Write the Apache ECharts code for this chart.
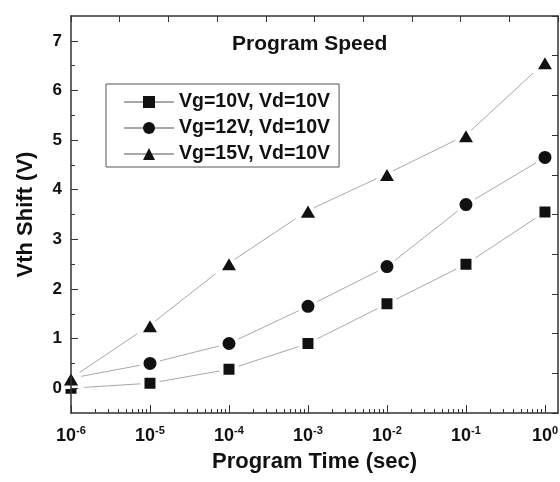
<!DOCTYPE html>
<html>
<head>
    <meta charset="utf-8">
    <title>Program Speed</title>
    <script type="text/javascript" src="https://cdn.jsdelivr.net/npm/echarts@6/dist/echarts.min.js"></script>
    <style>
    html, body { margin: 0; padding: 0; background: #fff; }
    </style>
</head>
<body>
    <div id="main" style="width:560px;height:482px"></div>
    <script>
    // program time, as powers of ten (sec)
    var timeExp = [-6, -5, -4, -3, -2, -1, 0];
    var seriesNames = ['Vg=10V, Vd=10V', 'Vg=12V, Vd=10V', 'Vg=15V, Vd=10V'];
    // Vth shift (V)
    var vg10 = [0.0, 0.1, 0.38, 0.9, 1.7, 2.5, 3.55];
    var vg12 = [0.2, 0.5, 0.9, 1.65, 2.45, 3.7, 4.65];
    var vg15 = [0.2, 1.27, 2.52, 3.58, 4.32, 5.1, 6.57];
    var yTicks = [0, 1, 2, 3, 4, 5, 6, 7];
    var yMinorTicks = [0.5, 1.5, 2.5, 3.5, 4.5, 5.5, 6.5];

    // log minor ticks 2..9 x 10^k
    var xMinorTicks = [];
    for (var d = -6; d < 0; d++) {
        for (var k = 2; k <= 9; k++) {
            xMinorTicks.push(d + Math.log10(k));
        }
    }

    function pairs(ys) {
        return timeExp.map(function (x, i) { return [x, ys[i]]; });
    }

    var font = "'Liberation Sans', Arial, sans-serif";
    var axisColor = '#333';

    function makeSeries(name, ys, symbol, size) {
        return {
            name: name,
            type: 'line',
            z: 2,
            data: pairs(ys),
            symbol: symbol,
            symbolSize: size,
            clip: false,
            lineStyle: { color: '#a8a8a8', width: 1 },
            itemStyle: { color: '#111', borderColor: '#fff', borderWidth: 4 },
            emphasis: { disabled: true }
        };
    }

    var option = {
        animation: false,
        title: {
            text: 'Program Speed',
            left: 227,
            top: 29,
            textStyle: { fontFamily: font, fontSize: 21, fontWeight: 'bold', color: '#111' }
        },
        legend: {
            orient: 'vertical',
            left: 106,
            top: 84,
            padding: [8, 9, 3, 17],
            itemWidth: 50,
            itemHeight: 15,
            itemGap: 6,
            backgroundColor: '#fff',
            borderColor: '#555',
            borderWidth: 1,
            itemStyle: { borderWidth: 0 },
            textStyle: { fontFamily: font, fontSize: 19.5, fontWeight: 'bold', color: '#111' },
            data: seriesNames
        },
        grid: {
            left: 71,
            right: 2,
            top: 16,
            bottom: 69,
            outerBoundsMode: 'none'
        },
        xAxis: [{
            type: 'value',
            min: -6,
            max: 0.165,
            position: 'bottom',
            z: 5,
            name: 'Program Time (sec)',
            nameLocation: 'middle',
            nameGap: 38,
            nameTextStyle: { fontFamily: font, fontSize: 22, fontWeight: 'bold', color: '#111' },
            axisLine: { onZero: false, lineStyle: { color: axisColor, width: 1.5 } },
            axisTick: { inside: true, length: 8, customValues: timeExp, lineStyle: { color: axisColor } },
            axisLabel: {
                customValues: timeExp,
                margin: 12,
                formatter: function (v) { return '{b|10}{s|' + v + '}'; },
                rich: {
                    b: { fontFamily: font, fontSize: 18, fontWeight: 'bold', color: '#111', lineHeight: 22 },
                    s: { fontFamily: font, fontSize: 11, fontWeight: 'bold', color: '#111', verticalAlign: 'top', lineHeight: 11 }
                }
            },
            splitLine: { show: false }
        }, {
            type: 'value',
            min: -6,
            max: 0.165,
            position: 'bottom',
            z: 5,
            axisLine: { show: false, onZero: false },
            axisTick: { inside: true, length: 4, customValues: xMinorTicks, lineStyle: { color: axisColor } },
            axisLabel: { show: false },
            splitLine: { show: false }
        }, {
            type: 'value',
            min: 0,
            max: 10,
            interval: 1,
            position: 'top',
            z: 5,
            axisLine: { onZero: false, lineStyle: { color: axisColor, width: 1.5 } },
            axisTick: { inside: true, length: 6, lineStyle: { color: axisColor } },
            axisLabel: { show: false },
            splitLine: { show: false }
        }],
        yAxis: [{
            type: 'value',
            min: -0.5,
            max: 7.5,
            position: 'left',
            z: 5,
            name: 'Vth Shift (V)',
            nameLocation: 'middle',
            nameGap: 34,
            nameTextStyle: { fontFamily: font, fontSize: 22, fontWeight: 'bold', color: '#111' },
            axisLine: { onZero: false, lineStyle: { color: axisColor, width: 1.5 } },
            axisTick: { inside: true, length: 7, customValues: yTicks, lineStyle: { color: axisColor } },
            axisLabel: {
                customValues: yTicks,
                margin: 9,
                fontFamily: font, fontSize: 17, fontWeight: 'bold', color: '#111'
            },
            splitLine: { show: false }
        }, {
            type: 'value',
            min: -0.5,
            max: 7.5,
            position: 'left',
            z: 5,
            axisLine: { show: false, onZero: false },
            axisTick: { inside: true, length: 4, customValues: yMinorTicks, lineStyle: { color: axisColor } },
            axisLabel: { show: false },
            splitLine: { show: false }
        }, {
            type: 'value',
            min: 0,
            max: 10,
            interval: 1,
            position: 'right',
            z: 5,
            axisLine: { onZero: false, lineStyle: { color: axisColor, width: 1.5 } },
            axisTick: { inside: true, length: 6, lineStyle: { color: axisColor } },
            axisLabel: { show: false },
            splitLine: { show: false }
        }],
        series: [
            makeSeries(seriesNames[0], vg10, 'rect', 15),
            makeSeries(seriesNames[1], vg12, 'circle', 17),
            makeSeries(seriesNames[2], vg15, 'triangle', [21, 18])
        ]
    };

    var myChart = echarts.init(document.getElementById('main'));
    myChart.setOption(option);
    </script>
</body>
</html>
